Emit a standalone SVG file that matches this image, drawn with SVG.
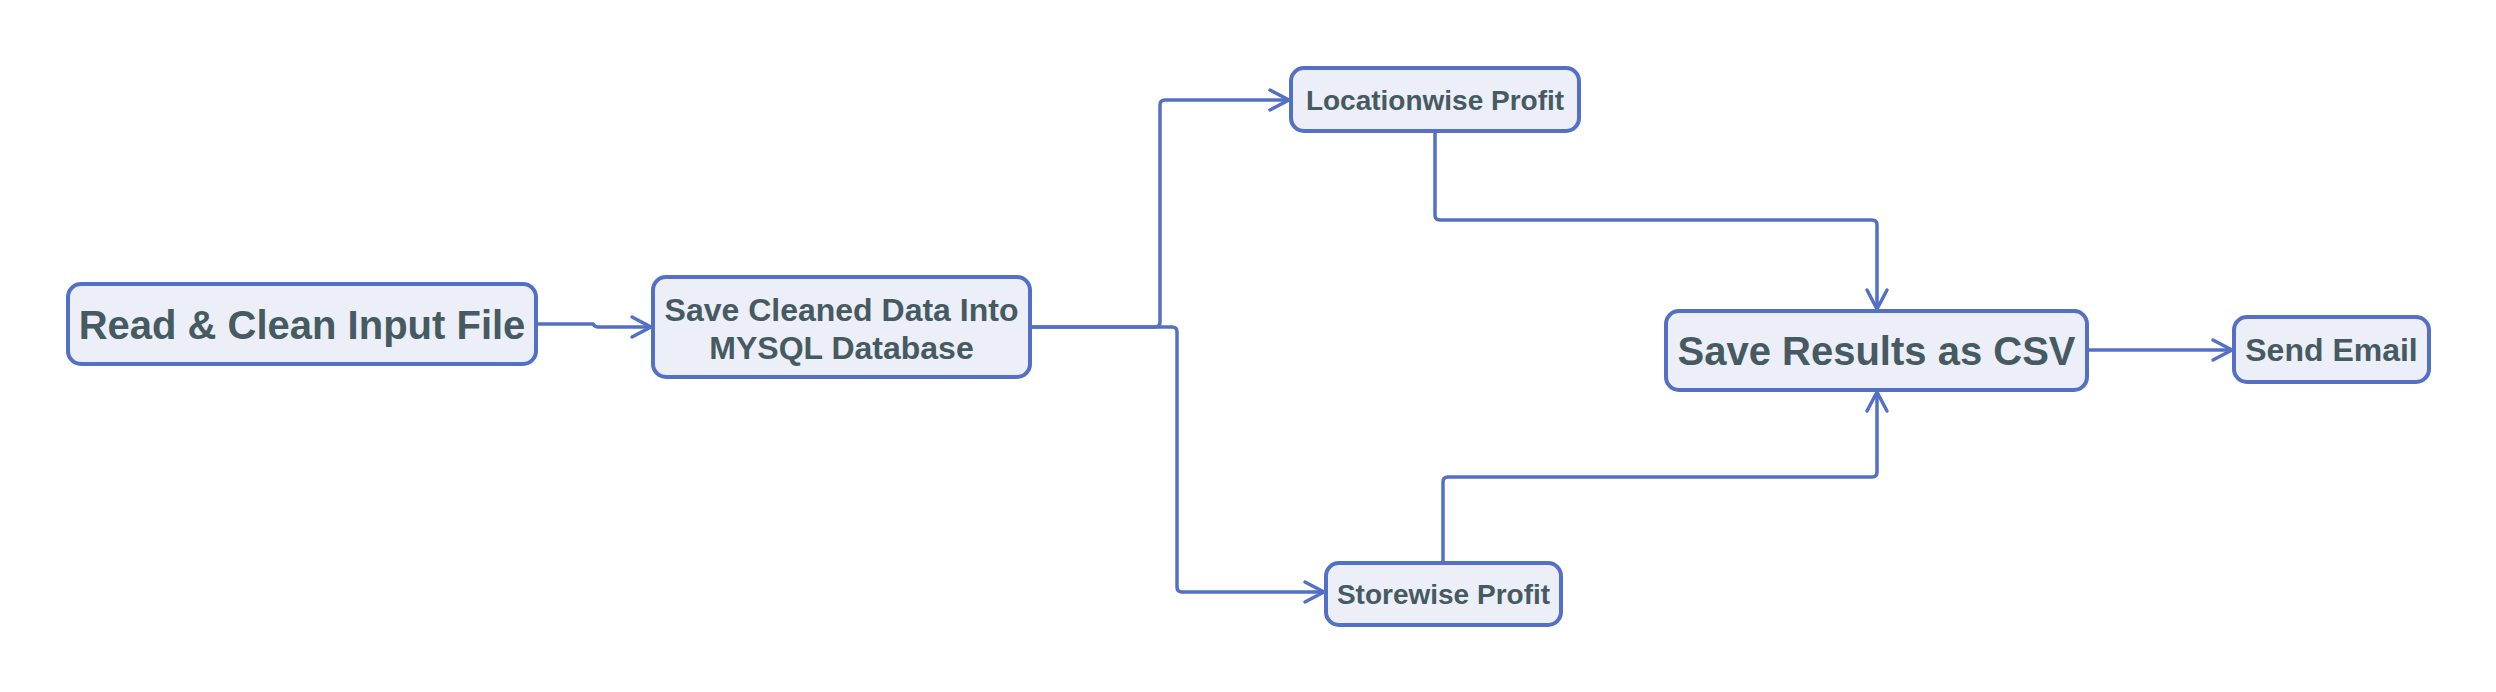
<svg xmlns="http://www.w3.org/2000/svg" width="2496" height="692" viewBox="0 0 2496 692">
<style>
.node rect{fill:#ECEEF8;stroke:#5470C6;stroke-width:4}
.node text{font-family:"Liberation Sans",Arial,sans-serif;font-weight:bold;fill:#465A62;text-anchor:middle}
.edge{fill:none;stroke:#5470C6;stroke-width:3.5;stroke-linejoin:round}
</style>
<defs>
<marker id="arr" markerUnits="userSpaceOnUse" viewBox="-22 -13 26 26" refX="0" refY="0" markerWidth="26" markerHeight="26" orient="auto">
<path d="M-19,-10 L0,0 L-19,10" fill="none" stroke="#5470C6" stroke-width="3.5" stroke-linecap="round" stroke-linejoin="round"/>
</marker>
</defs>
<rect width="2496" height="692" fill="#FFFFFF"/>
<g id="connectors">
<path class="edge" d="M536,324 L593,324 Q595,327 598,327 L651,327" marker-end="url(#arr)"/>
<path class="edge" d="M1030,327 L1155,327 Q1160,327 1160,322 L1160,105 Q1160,100 1165,100 L1289,100" marker-end="url(#arr)"/>
<path class="edge" d="M1030,327 L1172,327 Q1177,327 1177,332 L1177,587 Q1177,592 1182,592 L1324,592" marker-end="url(#arr)"/>
<path class="edge" d="M1435,131 L1435,215 Q1435,220 1440,220 L1872,220 Q1877,220 1877,225 L1877,309" marker-end="url(#arr)"/>
<path class="edge" d="M1443,563 L1443,482 Q1443,477 1448,477 L1872,477 Q1877,477 1877,472 L1877,392" marker-end="url(#arr)"/>
<path class="edge" d="M2087,350 L2232,350" marker-end="url(#arr)"/>
</g>
<g id="node-read" class="node">
<rect x="68" y="284" width="468" height="80" rx="13"/>
<text x="302" y="338.5" font-size="40">Read &amp; Clean Input File</text>
</g>
<g id="node-save-db" class="node">
<rect x="653" y="277" width="377" height="100" rx="13"/>
<text x="841.5" y="321" font-size="32">Save Cleaned Data Into</text>
<text x="841.5" y="359" font-size="32">MYSQL Database</text>
</g>
<g id="node-location" class="node">
<rect x="1291" y="68" width="288" height="63" rx="13"/>
<text x="1435" y="109.5" font-size="28">Locationwise Profit</text>
</g>
<g id="node-store" class="node">
<rect x="1326" y="563" width="235" height="62" rx="13"/>
<text x="1443.5" y="603.5" font-size="28">Storewise Profit</text>
</g>
<g id="node-csv" class="node">
<rect x="1666" y="311" width="421" height="79" rx="13"/>
<text x="1876.5" y="365" font-size="40">Save Results as CSV</text>
</g>
<g id="node-email" class="node">
<rect x="2234" y="317" width="195" height="65" rx="13"/>
<text x="2331.5" y="361" font-size="32">Send Email</text>
</g>
</svg>
